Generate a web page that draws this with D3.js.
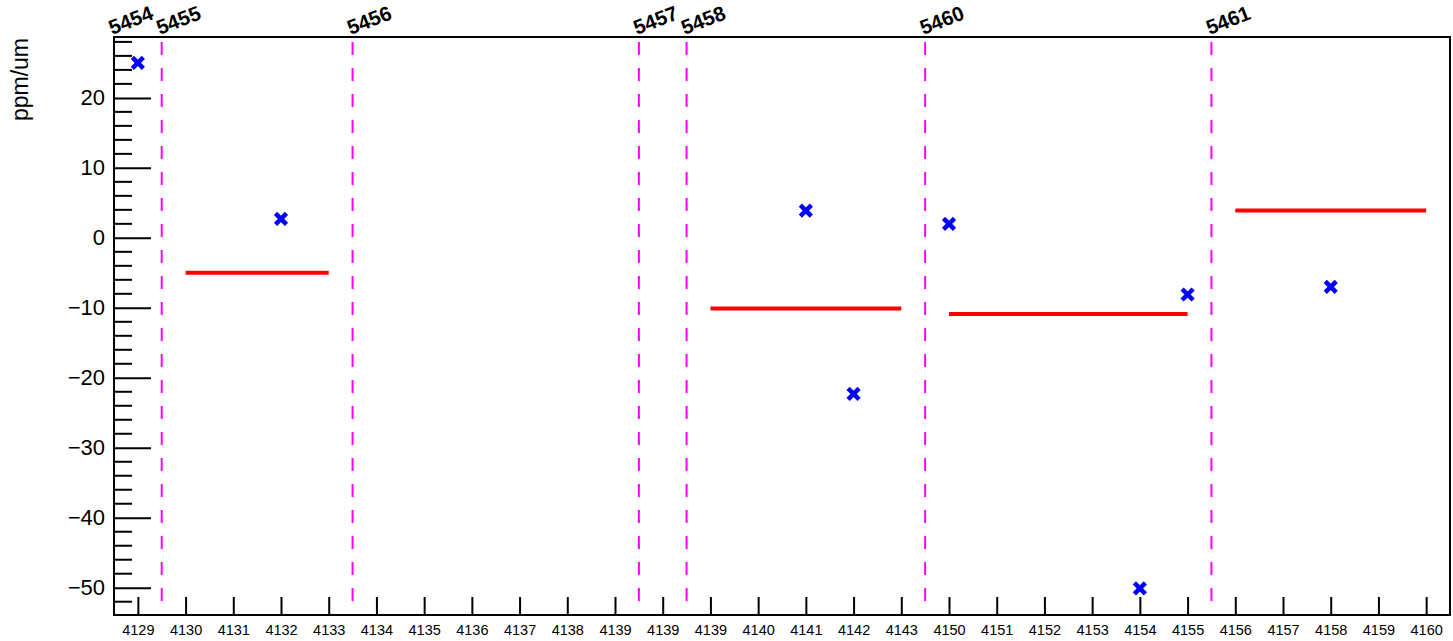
<!DOCTYPE html>
<html>
<head>
<meta charset="utf-8">
<script src="https://cdn.jsdelivr.net/npm/d3@7"></script>
<style>
  body { margin: 0; background: #fff; }
  svg { font-family: "Liberation Sans", Arial, sans-serif; }
</style>
</head>
<body>
<div class="entries"></div>
<script>
// bin labels along the x axis (one per bin)
var binLabels = ["4129","4130","4131","4132","4133","4134","4135","4136","4137","4138",
  "4139","4139","4139","4140","4141","4142","4143","4150","4151","4152","4153",
  "4154","4155","4156","4157","4158","4159","4160"];

// run boundaries: run number and bin edge where it starts
var runNames = ["5454","5455","5456","5457","5458","5460","5461"];
var runEdges = [0, 1, 5, 11, 12, 17, 23];

// single measurements: bin index and value
var pointBins = [0, 3, 14, 15, 17, 21, 22, 25];
var pointVals = [25, 2.7, 3.9, -22.3, 2.0, -50.1, -8.1, -7.0];

// run averages: first bin, last bin, value
var avgFrom = [1, 12, 17, 23];
var avgTo = [4, 16, 22, 27];
var avgVals = [-5.0, -10.1, -10.9, 3.9];

var yMajor = [-50, -40, -30, -20, -10, 0, 10, 20];

var w = 1453,
    h = 641;
var padL = 114, padR = 1450, padT = 37, padB = 615;

var vis = d3.select(".entries").append("svg")
    .attr("width", w)
    .attr("height", h);

var x = d3.scaleLinear().domain([0, binLabels.length]).range([padL, padR]);
var y = d3.scaleLinear().domain([-53.9, 28.7]).range([padB, padT]);

// y axis, ticks pointing into the frame
var yAxis = d3.axisLeft(y)
    .tickValues(yMajor)
    .tickSize(-37)
    .tickPadding(9)
    .tickFormat(function(d) { return d < 0 ? "\u2212" + Math.abs(d) : d; });
var gy = vis.append("g").attr("transform", "translate(" + padL + ",0)").call(yAxis);
gy.select(".domain").remove();
gy.selectAll("line").attr("stroke", "#000").attr("stroke-width", 2);
gy.selectAll("text").attr("font-size", 22).attr("fill", "#000");

var minor = d3.range(-52, 29, 2).filter(function(d) { return d % 10 != 0; });
vis.append("g").selectAll("line").data(minor).enter().append("line")
    .attr("x1", padL).attr("x2", padL + 18)
    .attr("y1", function(d) { return y(d); })
    .attr("y2", function(d) { return y(d); })
    .attr("stroke", "#000").attr("stroke-width", 2);

// x axis with bin labels
var xAxis = d3.axisBottom(x)
    .tickValues(d3.range(binLabels.length).map(function(i) { return i + 0.5; }))
    .tickSize(-18)
    .tickPadding(10)
    .tickFormat(function(d) { return binLabels[Math.floor(d)]; });
var gx = vis.append("g").attr("transform", "translate(0," + padB + ")").call(xAxis);
gx.select(".domain").remove();
gx.selectAll("line").attr("stroke", "#000").attr("stroke-width", 2);
gx.selectAll("text").attr("font-size", 14.5).attr("fill", "#000");

// y title
vis.append("text")
    .attr("transform", "translate(28," + (padT + 1) + ") rotate(-90)")
    .attr("text-anchor", "end")
    .attr("font-size", 23)
    .text("ppm/um");

// run boundary lines
vis.append("g").selectAll("line").data(runEdges).enter().append("line")
    .attr("x1", function(d) { return x(d); })
    .attr("x2", function(d) { return x(d); })
    .attr("y1", padT + 5).attr("y2", padB)
    .attr("stroke", "#ff00ff")
    .attr("stroke-width", 2)
    .attr("stroke-dasharray", "13,13");

vis.append("g").selectAll("text").data(runEdges).enter().append("text")
    .attr("transform", function(d) { return "translate(" + (x(d) - 2) + ",35) rotate(-21)"; })
    .attr("font-size", 20.5)
    .attr("font-weight", "bold")
    .text(function(d, i) { return runNames[i]; });

// run averages
vis.append("g").selectAll("line").data(avgVals).enter().append("line")
    .attr("x1", function(d, i) { return x(avgFrom[i] + 0.5); })
    .attr("x2", function(d, i) { return x(avgTo[i] + 0.5); })
    .attr("y1", function(d) { return y(d); })
    .attr("y2", function(d) { return y(d); })
    .attr("stroke", "#ff0000")
    .attr("stroke-width", 4);

// measurements as thick crosses
var s = 5.5;
vis.append("g").selectAll("path").data(pointVals).enter().append("path")
    .attr("d", function(d, i) {
      var cx = x(pointBins[i] + 0.5), cy = y(d);
      return "M" + (cx - s) + "," + (cy - s) + "L" + (cx + s) + "," + (cy + s) +
             "M" + (cx - s) + "," + (cy + s) + "L" + (cx + s) + "," + (cy - s);
    })
    .attr("stroke", "#0000ff")
    .attr("stroke-width", 4.5)
    .attr("fill", "none");

// frame
vis.append("rect")
    .attr("x", padL).attr("y", padT)
    .attr("width", padR - padL).attr("height", padB - padT)
    .attr("fill", "none").attr("stroke", "#000").attr("stroke-width", 2);
</script>
</body>
</html>
